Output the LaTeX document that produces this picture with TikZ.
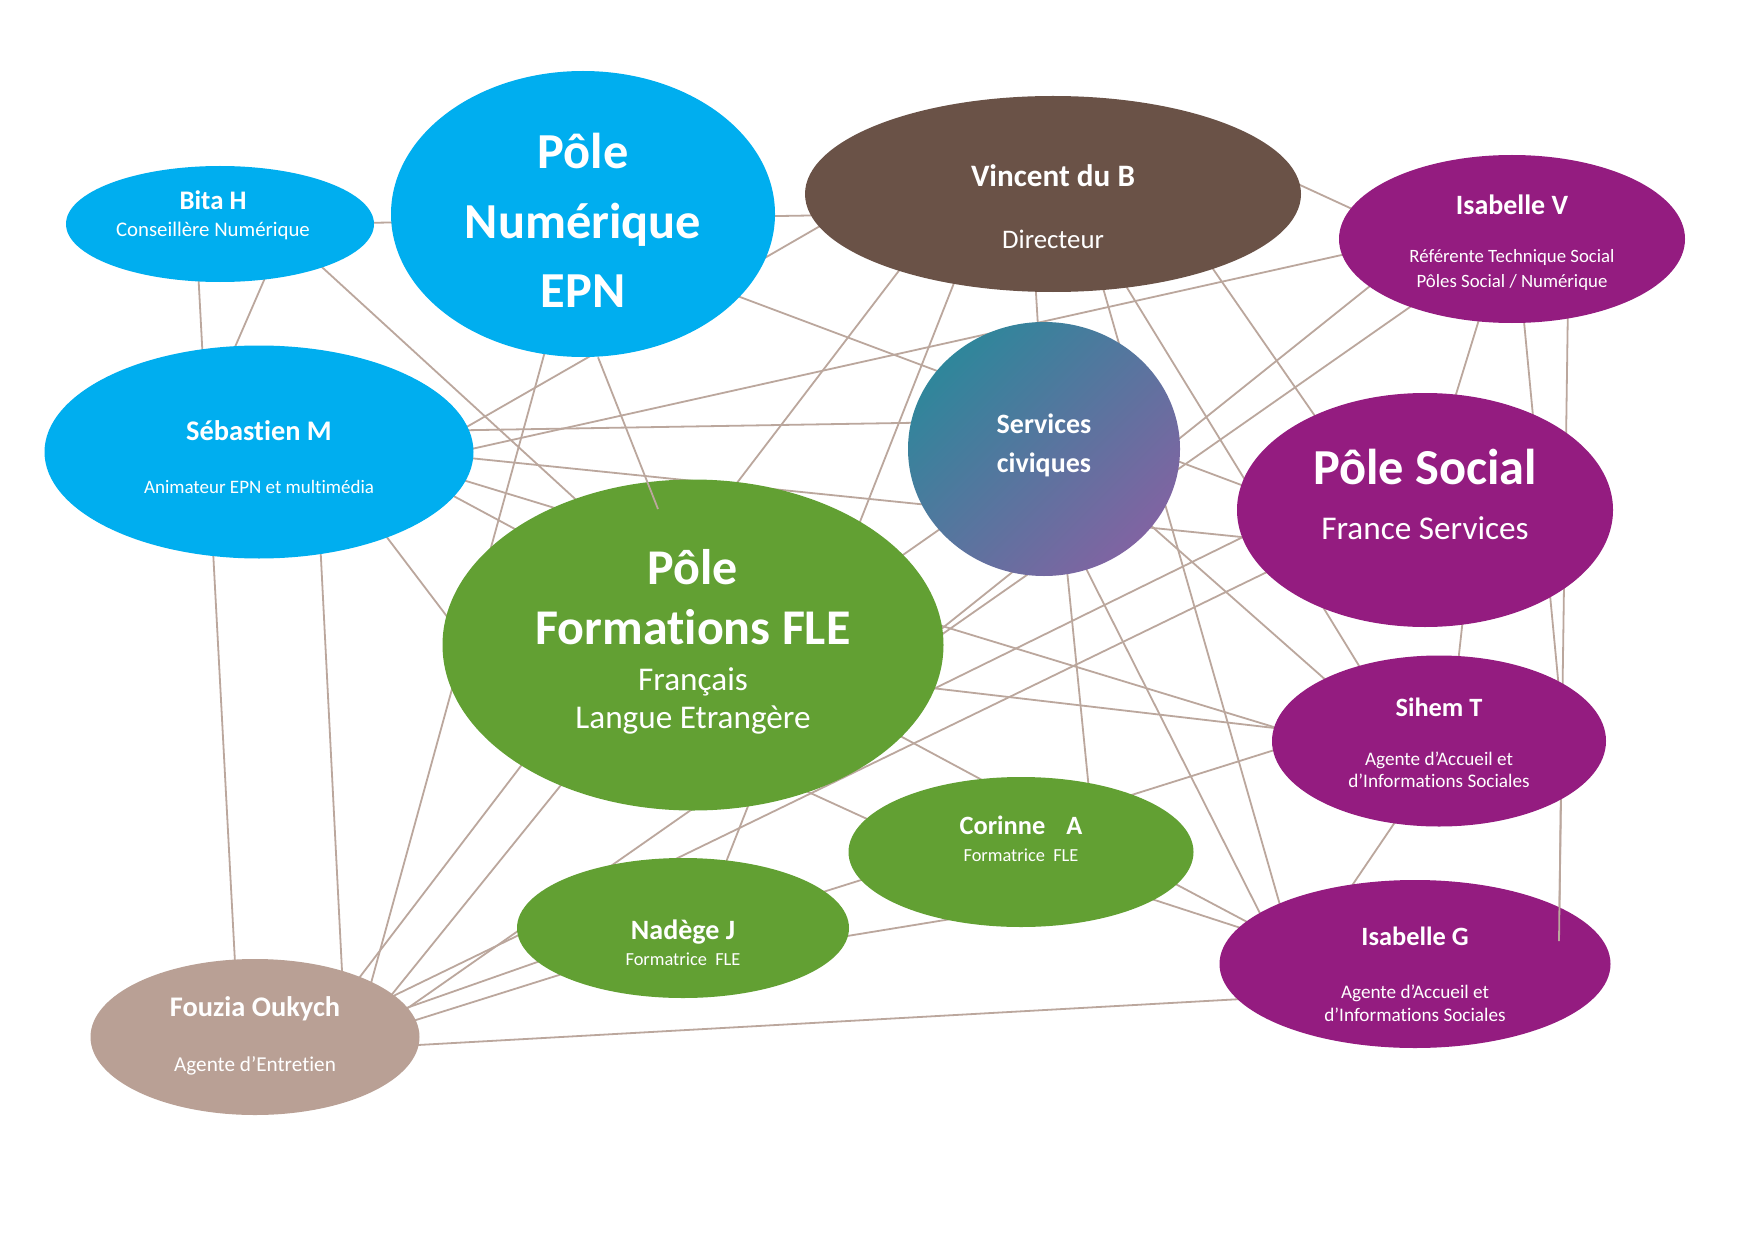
\documentclass[tikz,border=0pt]{standalone}
\usepackage{fontspec}
\setmainfont{Carlito}[Ligatures=NoCommon]
\usetikzlibrary{shapes.geometric,calc}

\definecolor{epnblue}{HTML}{00AEEF}
\definecolor{flegreen}{HTML}{62A033}
\definecolor{dirbrown}{HTML}{6A5247}
\definecolor{socpurple}{HTML}{941C80}
\definecolor{agenttan}{HTML}{B9A095}
\definecolor{linktan}{HTML}{BBA79D}
\definecolor{civteal}{HTML}{2F869B}
\definecolor{civmauve}{HTML}{8064A2}

\newcommand\nmfont[1]{\fontsize{#1}{#1}\selectfont\bfseries}
\newcommand\rlfont[1]{\fontsize{#1}{#1}\selectfont}
\newcommand\topstrut[1]{\rule{0pt}{#1}}
\newcommand\botstrut[1]{\rule[-#1]{0pt}{#1}}

\pgfdeclarelayer{background}
\pgfdeclarelayer{foreground}
\pgfsetlayers{background,main,foreground}

\tikzset{
  blob/.style={ellipse, inner sep=-40pt, text=white, align=center,
    font={\baselineskip=0pt\lineskiplimit=-100pt}},
  link/.style={draw=linktan, line width=0.45pt},
}

\begin{document}
\begin{tikzpicture}[x=0.25pt, y=-0.25pt]
    \useasboundingbox (0,0) rectangle (1755,1241);

    \node[blob, fill=epnblue, minimum width=77pt, minimum height=29pt] (bita) at (220,224)
        {\kern-3.5pt\topstrut{5.6pt}\nmfont{6.7}Bita H\\[6.9pt]\kern-3.5pt\rlfont{5.2}Conseillère Numérique\botstrut{6pt}};
    \node[blob, fill=epnblue, minimum width=96pt, minimum height=71.5pt] (pn) at (583,214)
        {\topstrut{13.25pt}\nmfont{12.6}Pôle\\[17.5pt]\nmfont{12.6}Numérique\\[17.25pt]\nmfont{12.6}EPN\botstrut{1pt}};
    \node[blob, fill=dirbrown, minimum width=124pt, minimum height=49pt] (vinc) at (1053,194)
        {\topstrut{12.75pt}\nmfont{7.8}Vincent du B\\[15.5pt]\rlfont{6.7}Directeur\botstrut{1pt}};
    \node[blob, fill=socpurple, minimum width=86.5pt, minimum height=42pt] (iv) at (1512,239)
        {\topstrut{7.5pt}\nmfont{7}Isabelle V\\[12pt]\rlfont{4.7}Référente Technique Social\\[6pt]\rlfont{4.7}Pôles Social / Numérique\botstrut{1.5pt}};
    \node[blob, fill=epnblue, minimum width=107.25pt, minimum height=53.25pt] (seb) at (259,452)
        {\topstrut{8.9pt}\nmfont{7.1}Sébastien M\\[13.1pt]\rlfont{4.75}Animateur EPN et multimédia\botstrut{1.5pt}};
    \node[blob, top color=civteal, bottom color=civmauve, shading angle=45,
          minimum width=68pt, minimum height=63.5pt] (sc) at (1044,449)
        {\topstrut{5.6pt}\nmfont{7}Services\\[9.9pt]\nmfont{7}civiques\botstrut{3.7pt}};
    \node[blob, fill=socpurple, minimum width=94pt, minimum height=58.5pt] (ps) at (1425,510)
        {\topstrut{10.1pt}\nmfont{12.6}Pôle Social\\[13.75pt]\rlfont{8.3}France Services\botstrut{9.35pt}};
    \node[blob, fill=flegreen, minimum width=125.25pt, minimum height=82.75pt] (fle) at (693,645)
        {\topstrut{10.6pt}\nmfont{12.5}Pôle\\[15pt]\nmfont{12.5}Formations FLE\\[11.5pt]\rlfont{8.3}Français\\[9.5pt]\rlfont{8.3}Langue Etrangère\botstrut{4.85pt}};
    \node[blob, fill=socpurple, minimum width=83.5pt, minimum height=42.75pt] (sih) at (1439,741)
        {\topstrut{7.1pt}\nmfont{6.6}Sihem T\\[12.2pt]\rlfont{4.8}Agente d’Accueil et\\[5.6pt]\rlfont{4.8}d’Informations Sociales\botstrut{1.5pt}};
    \node[blob, fill=flegreen, minimum width=86.25pt, minimum height=37.5pt] (cor) at (1021,852)
        {\topstrut{5.3pt}\nmfont{6.6}Corinne\hspace{0.8em}A\\[6.7pt]\rlfont{4.6}Formatrice\ \ FLE\botstrut{7.5pt}};
    \node[blob, fill=flegreen, minimum width=83pt, minimum height=35pt] (nad) at (683,928)
        {\topstrut{13.5pt}\nmfont{7}Nadège J\\[6.5pt]\rlfont{4.6}Formatrice\ \ FLE\botstrut{1.5pt}};
    \node[blob, fill=socpurple, minimum width=97.75pt, minimum height=42pt] (ig) at (1415,964)
        {\topstrut{11.15pt}\nmfont{6.6}Isabelle G\\[13.1pt]\rlfont{4.8}Agente d’Accueil et\\[5.75pt]\rlfont{4.8}d’Informations Sociales\botstrut{1.5pt}};
    \node[blob, fill=agenttan, minimum width=82.25pt, minimum height=39pt] (fouz) at (255,1037)
        {\topstrut{5.6pt}\nmfont{7.1}Fouzia Oukych\\[13.75pt]\rlfont{5.3}Agente d’Entretien\botstrut{2.35pt}};

    \begin{pgfonlayer}{background}
        \fill[white] (0,0) rectangle (1755,1241);
        \foreach \a/\ax/\ay/\b/\bx/\by in {
            bita/80/0/vinc/-153/20, bita/-23/26/fouz/-18/-37, bita/55/31/seb/-34/-82,
            bita/80/23/fle/-73/-105, seb/171/-4/pn/37/125, seb/181/4/iv/-112/3,
            seb/161/-21/sc/-84/-27, seb/171/2/ps/-125/33, seb/171/18/sih/-139/-6,
            seb/161/26/cor/-11/-57, seb/111/63/fle/-213/15, seb/59/48/fouz/89/-27,
            pn/-28/101/fouz/110/-32, pn/117/68/ps/-125/-3, pn/147/64/vinc/-193/9,
            vinc/-123/36/fouz/85/-34, vinc/-88/61/nad/32/-38, vinc/-19/66/sc/-4/-89,
            vinc/42/66/ig/-125/-24, vinc/57/66/sih/-59/-41, vinc/133/36/ps/-83/-55,
            vinc/197/-32/iv/-112/-8, iv/-92/61/fouz/150/-27, iv/-122/31/fle/157/57,
            iv/-27/61/ps/20/-80, iv/9/51/sih/121/-41, iv/56/61/ig/144/-23,
            fouz/130/-34/fle/-73/67, fouz/130/-37/ps/-125/46, fle/157/85/ps/-125/-1,
            fle/187/37/sih/-139/-10, fle/67/125/cor/-121/-18, sc/-44/38/fle/157/-53,
            sc/18/71/cor/71/-32, sc/16/68/ig/-135/-11, sc/36/14/sih/-94/-44,
            fouz/145/-12/sih/-139/1, fouz/140/-25/nad/-83/12, fouz/145/9/ig/-155/34,
            cor/79/-8/ig/-115/-14, cor/69/27/ig/-125/-20, sih/-29/59/ig/-85/-46,
            ps/40/90/sih/16/-51, nad/97/19/cor/-21/59}
            \draw[link] ($(\a)+(\ax,\ay)$) -- ($(\b)+(\bx,\by)$);
    \end{pgfonlayer}

    \begin{pgfonlayer}{foreground}
        \draw[link] (pn.-84) -- ($(fle)+(-35,-136)$);
        \draw[link] (sih.-26) -- ($(ig)+(144,-23)$);
    \end{pgfonlayer}
\end{tikzpicture}
\end{document}
